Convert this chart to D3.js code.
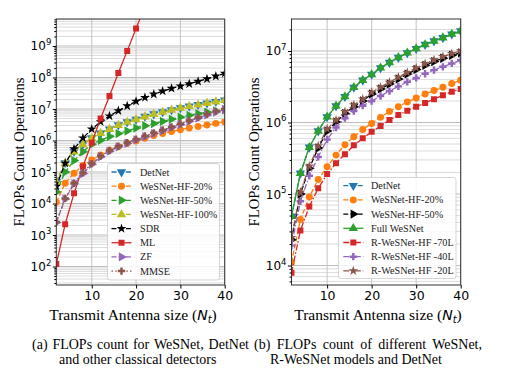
<!DOCTYPE html>
<html><head><meta charset="utf-8">
<script src="https://cdn.jsdelivr.net/npm/d3@7"></script>
<style>body{margin:0;background:#fff}svg{display:block}</style>
</head><body><svg id="c" width="512" height="374"></svg>
<script>
// ---------- data ----------
const nt = [2,4,6,8,10,12,14,16,18,20,22,24,26,28,30,32,34,36,38,40];
const mlNt = [2,4,6,8,10,12,14,16,18,20,22];

const detNet     = [4.9e4,1.95e5,4.5e5,7.6e5,1.2e6,1.7e6,2.3e6,3.1e6,3.9e6,4.7e6,5.8e6,6.9e6,8.1e6,9.4e6,1.08e7,1.23e7,1.38e7,1.53e7,1.72e7,1.9e7];
const wesnetHF100= [4.8e4,1.9e5,4.4e5,7.5e5,1.18e6,1.68e6,2.28e6,3.05e6,3.85e6,4.65e6,5.7e6,6.8e6,8.0e6,9.3e6,1.07e7,1.21e7,1.36e7,1.52e7,1.7e7,1.88e7];
const fullWeSNet = [4.9e4,1.95e5,4.5e5,7.6e5,1.2e6,1.7e6,2.3e6,3.1e6,3.9e6,4.7e6,5.8e6,6.9e6,8.1e6,9.4e6,1.08e7,1.23e7,1.38e7,1.53e7,1.72e7,1.9e7];
const wesnetHF50 = [2.3e4,1.0e5,2.3e5,4.4e5,7.6e5,1.02e6,1.34e6,1.66e6,2.0e6,2.5e6,2.95e6,3.45e6,4.05e6,4.75e6,5.5e6,6.3e6,7.1e6,7.9e6,8.7e6,9.4e6];
const wesnetHF20 = [1.1e4,4.4e4,9.1e4,1.6e5,2.4e5,3.5e5,4.9e5,6.3e5,8.0e5,9.7e5,1.18e6,1.43e6,1.66e6,1.94e6,2.2e6,2.5e6,2.8e6,3.1e6,3.5e6,3.9e6];
const rWeSNet70L = [7.9e3,3.1e4,6.7e4,1.2e5,1.9e5,2.7e5,3.6e5,4.8e5,6.0e5,7.4e5,8.9e5,1.08e6,1.27e6,1.46e6,1.66e6,1.88e6,2.12e6,2.4e6,2.7e6,2.95e6];
const rWeSNet40L = [1.9e4,7.9e4,1.8e5,3.3e5,5.8e5,8.5e5,1.15e6,1.45e6,1.72e6,2.0e6,2.35e6,2.75e6,3.2e6,3.7e6,4.2e6,4.8e6,5.4e6,6.0e6,6.7e6,7.4e6];
const rWeSNet20L = [2.45e4,1.06e5,2.45e5,4.7e5,8.1e5,1.08e6,1.42e6,1.76e6,2.12e6,2.65e6,3.12e6,3.65e6,4.3e6,5.0e6,5.8e6,6.65e6,7.5e6,8.35e6,9.2e6,1.0e7];
const sdr  = [3.5e4,1.9e5,5.4e5,1.2e6,2.3e6,3.9e6,6.0e6,8.8e6,1.25e7,1.75e7,2.3e7,2.95e7,3.7e7,4.5e7,5.3e7,6.3e7,7.5e7,9.0e7,1.1e8,1.35e8];
const ml   = [1.2e2,2.2e3,2.1e4,1.5e5,8.5e5,5.0e6,2.6e7,1.4e8,7.0e8,3.6e9,1.8e10];
const zf   = [2.5e3,1.4e4,4.2e4,9.0e4,1.75e5,3.05e5,4.6e5,6.3e5,8.2e5,1.05e6,1.33e6,1.66e6,2.05e6,2.6e6,3.25e6,4.1e6,5.2e6,6.5e6,8.0e6,9.6e6];
const mmse = [2.6e3,1.45e4,4.4e4,9.5e4,1.85e5,3.2e5,4.8e5,6.6e5,8.6e5,1.1e6,1.4e6,1.75e6,2.15e6,2.7e6,3.4e6,4.3e6,5.4e6,6.8e6,8.4e6,1.0e7];

const xTicks = [10,20,30,40];
const yTicksLeft = [2,3,4,5,6,7,8,9];
const yTicksRight = [4,5,6,7];

const leftLabels  = ["DetNet","WeSNet-HF-20%","WeSNet-HF-50%","WeSNet-HF-100%","SDR","ML","ZF","MMSE"];
const rightLabels = ["DetNet","WeSNet-HF-20%","WeSNet-HF-50%","Full WeSNet","R-WeSNet-HF -70L","R-WeSNet-HF -40L","R-WeSNet-HF -20L"];
const captions = [
  ["(a) FLOPs count for WeSNet, DetNet","and other classical detectors"],
  ["(b) FLOPs count of different WeSNet,","R-WeSNet models and DetNet"]
];

const C = {blue:"#1f77b4",orange:"#ff7f0e",green:"#2ca02c",red:"#d62728",purple:"#9467bd",brown:"#8c564b",olive:"#bcbd22",black:"#000000"};

const leftSeries = [
  {label:leftLabels[0], x:nt, y:detNet, color:C.blue, marker:"v", dash:"5,2.2"},
  {label:leftLabels[1], x:nt, y:wesnetHF20, color:C.orange, marker:"o", dash:"5,2.2"},
  {label:leftLabels[2], x:nt, y:wesnetHF50, color:C.green, marker:">", dash:"5,2.2"},
  {label:leftLabels[3], x:nt, y:wesnetHF100, color:C.olive, marker:"^", dash:"5,2.2"},
  {label:leftLabels[4], x:nt, y:sdr, color:C.black, marker:"*", dash:"5,2.2"},
  {label:leftLabels[5], x:mlNt, y:ml, color:C.red, marker:"s", dash:null},
  {label:leftLabels[6], x:nt, y:zf, color:C.purple, marker:">", dash:"5,2.2"},
  {label:leftLabels[7], x:nt, y:mmse, color:C.brown, marker:"P", dash:"1.5,2.2"}
];
const rightSeries = [
  {label:rightLabels[0], x:nt, y:detNet, color:C.blue, marker:"v", dash:"5,2.2"},
  {label:rightLabels[1], x:nt, y:wesnetHF20, color:C.orange, marker:"o", dash:"5,2.2"},
  {label:rightLabels[2], x:nt, y:wesnetHF50, color:C.black, marker:">", dash:"5,2.2"},
  {label:rightLabels[3], x:nt, y:fullWeSNet, color:C.green, marker:"^", dash:null},
  {label:rightLabels[4], x:nt, y:rWeSNet70L, color:C.red, marker:"s", dash:"6,2,1.5,2"},
  {label:rightLabels[5], x:nt, y:rWeSNet40L, color:C.purple, marker:"P", dash:"6,2,1.5,2"},
  {label:rightLabels[6], x:nt, y:rWeSNet20L, color:C.brown, marker:"*", dash:"6,2,1.5,2"}
];

// ---------- drawing ----------
const svg = d3.select("#c");
const SERIF = "'Liberation Serif','Times New Roman',serif";
const SANS = "'DejaVu Sans',sans-serif";

function symbolPath(m){
  const g = d3.symbol();
  switch(m){
    case "o": return {d:g.type(d3.symbolCircle).size(38)(), r:0};
    case "s": return {d:g.type(d3.symbolSquare).size(36)(), r:0};
    case "^": return {d:g.type(d3.symbolTriangle).size(38)(), r:0};
    case "v": return {d:g.type(d3.symbolTriangle).size(38)(), r:180};
    case ">": return {d:g.type(d3.symbolTriangle).size(38)(), r:90};
    case "*": return {d:g.type(d3.symbolStar).size(30)(), r:0};
    case "P": return {d:g.type(d3.symbolCross).size(30)(), r:0};
  }
}

function fitText(sel, target){
  const w = sel.node().getComputedTextLength();
  const fs = parseFloat(sel.attr("font-size"));
  sel.attr("font-size", fs*target/w);
}

function panel(cfg){
  const {x0,x1,y0,y1,logTop,logBot,series,yTicks,legend,id} = cfg;
  const x = d3.scaleLinear().domain([2,40]).range([x0,x1]);
  const y = d3.scaleLog().domain([Math.pow(10,logBot),Math.pow(10,logTop)]).range([y1,y0]);
  const g = svg.append("g");
  g.append("rect").attr("x",x0).attr("y",y0).attr("width",x1-x0).attr("height",y1-y0).attr("fill","#fff");
  const lo = Math.floor(logBot), hi = Math.ceil(logTop);
  const minor = [], major = [];
  for(let e=lo;e<=hi;e++){
    for(let k=1;k<10;k++){
      const v = k*Math.pow(10,e);
      if(v<y.domain()[0]||v>y.domain()[1]) continue;
      (k===1?major:minor).push(v);
    }
  }
  g.selectAll(".mn").data(minor).join("line")
    .attr("x1",x0).attr("x2",x1).attr("y1",d=>y(d)).attr("y2",d=>y(d))
    .attr("stroke","#d2d2d2").attr("stroke-width",0.8);
  g.selectAll(".mj").data(major).join("line")
    .attr("x1",x0).attr("x2",x1).attr("y1",d=>y(d)).attr("y2",d=>y(d))
    .attr("stroke","#bdbdbd").attr("stroke-width",1);
  g.selectAll(".vx").data(xTicks).join("line")
    .attr("x1",d=>x(d)).attr("x2",d=>x(d)).attr("y1",y0).attr("y2",y1)
    .attr("stroke","#c4c4c4").attr("stroke-width",1);

  svg.append("clipPath").attr("id",id).append("rect").attr("x",x0).attr("y",y0).attr("width",x1-x0).attr("height",y1-y0);
  const pg = g.append("g").attr("clip-path",`url(#${id})`);
  const line = d3.line().x(d=>x(d[0])).y(d=>y(d[1]));
  series.forEach(s=>{
    const pts = s.x.map((v,i)=>[v,s.y[i]]);
    const sg = pg.append("g");
    sg.append("path").attr("d",line(pts)).attr("fill","none").attr("stroke",s.color)
      .attr("stroke-width",1.3).attr("stroke-dasharray",s.dash);
    const sp = symbolPath(s.marker);
    sg.selectAll("path.m").data(pts).join("path").attr("class","m")
      .attr("d",sp.d).attr("transform",d=>`translate(${x(d[0])},${y(d[1])}) rotate(${sp.r})`)
      .attr("fill",s.color);
  });

  g.append("rect").attr("x",x0).attr("y",y0).attr("width",x1-x0).attr("height",y1-y0)
    .attr("fill","none").attr("stroke","#333").attr("stroke-width",1);

  const xa = d3.axisBottom(x).tickValues(xTicks).tickSize(3.5).tickPadding(3);
  const xg = g.append("g").attr("transform",`translate(0,${y1})`).call(xa);
  xg.select(".domain").remove();
  xg.selectAll("text").attr("font-family",SANS).attr("font-size",12.5).attr("fill","#000");
  const ya = d3.axisLeft(y).tickValues(major).tickSize(3.5).tickFormat("");
  const yg = g.append("g").attr("transform",`translate(${x0},0)`).call(ya);
  yg.select(".domain").remove();
  const ym = d3.axisLeft(y).tickValues(minor).tickSize(2).tickFormat("");
  const ymg = g.append("g").attr("transform",`translate(${x0},0)`).call(ym);
  ymg.select(".domain").remove();
  yTicks.forEach(e=>{
    const t = g.append("text").attr("x",x0-5).attr("y",y(Math.pow(10,e))+4.5)
      .attr("text-anchor","end").attr("font-family",SANS).attr("font-size",12).attr("fill","#000");
    t.append("tspan").text("10");
    t.append("tspan").attr("dy",-5.5).attr("font-size",8.5).text(String(e));
  });

  const yl = g.append("text").attr("transform",`translate(${cfg.ylabX},${(y0+y1)/2}) rotate(-90)`)
    .attr("text-anchor","middle").attr("font-family",SERIF).attr("font-size",15).attr("fill","#000").text("FLOPs Count Operations");
  fitText(yl,149);
  const xl = g.append("text").attr("x",cfg.xlabCx).attr("y",320).attr("text-anchor","middle")
    .attr("font-family",SERIF).attr("font-size",15.5).attr("fill","#000");
  xl.append("tspan").text("Transmit Antenna size (");
  xl.append("tspan").attr("font-family",SANS).attr("font-style","italic").attr("font-size",14).text("N");
  xl.append("tspan").attr("font-family",SANS).attr("font-style","italic").attr("font-size",10).attr("dy",3).text("t");
  xl.append("tspan").attr("dy",-3).text(")");

  const L = legend;
  g.append("rect").attr("x",L.x).attr("y",L.y).attr("width",L.w).attr("height",L.h).attr("rx",2.5)
    .attr("fill","#fff").attr("fill-opacity",0.85).attr("stroke","#d0d0d0").attr("stroke-width",0.9);
  series.forEach((s,i)=>{
    const yy = L.y0 + i*L.dy;
    g.append("line").attr("x1",L.hx).attr("x2",L.hx+20).attr("y1",yy).attr("y2",yy)
      .attr("stroke",s.color).attr("stroke-width",1.3).attr("stroke-dasharray",s.dash);
    const sp = symbolPath(s.marker);
    g.append("path").attr("d",sp.d).attr("transform",`translate(${L.hx+10},${yy}) rotate(${sp.r})`).attr("fill",s.color);
    g.append("text").attr("x",L.tx).attr("y",yy+3.5).attr("font-family",SERIF).attr("font-size",10.2)
      .attr("fill","#222").text(s.label);
  });
}

panel({id:"clipL",x0:56.3,x1:224.7,y0:19,y1:285,logTop:9.857,logBot:1.413,series:leftSeries,yTicks:yTicksLeft,
  ylabX:24,xlabCx:133,legend:{x:107.5,y:163.5,w:112,h:116.5,y0:172,dy:14.15,hx:111.5,tx:140}});
panel({id:"clipR",x0:291.5,x1:460.7,y0:19,y1:285,logTop:7.447,logBot:3.728,series:rightSeries,yTicks:yTicksRight,
  ylabX:259,xlabCx:378,legend:{x:338.5,y:177.5,w:117.5,h:101,y0:185.7,dy:14.2,hx:343.3,tx:371}});

// captions: first line set to full width (hanging indent for second)
const capPos = [{x:32, w:217, x2:59},{x:254, w:228, x2:270}];
captions.forEach((lines,i)=>{
  const p = capPos[i];
  const t1 = svg.append("text").attr("x",p.x).attr("y",348.5).attr("font-family",SERIF).attr("font-size",14).attr("fill","#000").text(lines[0]);
  const nat = t1.node().getComputedTextLength();
  const nsp = lines[0].split(" ").length-1;
  t1.attr("word-spacing", Math.max(0,(p.w-nat)/nsp));
  svg.append("text").attr("x",p.x2).attr("y",363.5).attr("font-family",SERIF).attr("font-size",14).attr("fill","#000").text(lines[1]);
});
</script>
</body></html>
